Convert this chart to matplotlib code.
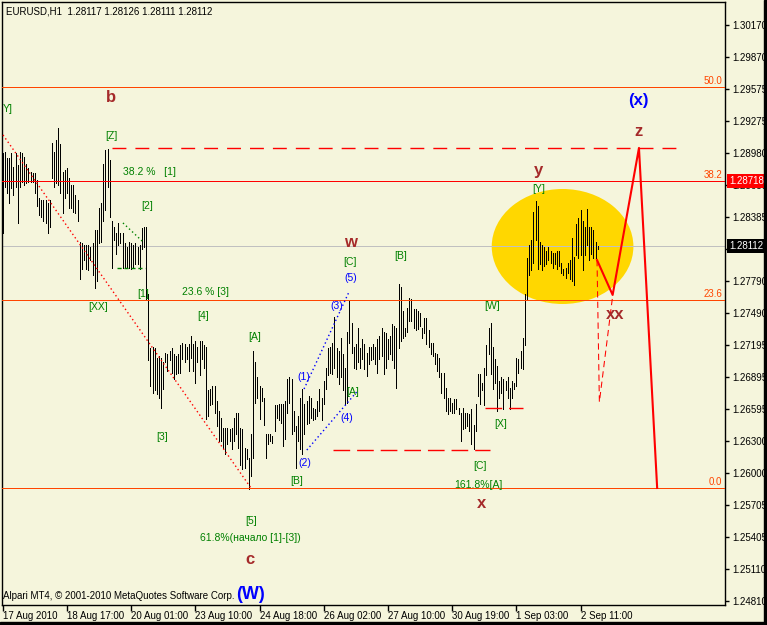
import numpy as np
import matplotlib
matplotlib.use("Agg")
import matplotlib.pyplot as plt
import matplotlib.transforms as mtrans
from matplotlib.patches import Ellipse, Rectangle

plt.rcParams['font.family'] = ['Liberation Sans', 'DejaVu Sans']
plt.rcParams['font.size'] = 7

# EURUSD H1 bars, 17 Aug - 2 Sep 2010
high = [
    1.2898, 1.2899, 1.2893, 1.2893, 1.2898, 1.2885, 1.2898, 1.2887, 1.2899, 1.2898,
    1.2894, 1.2888, 1.2884, 1.2880, 1.2879, 1.2879, 1.2873, 1.2856, 1.2854, 1.2854,
    1.2854, 1.2851, 1.2854, 1.2907, 1.2899, 1.2910, 1.2921, 1.2906, 1.2880, 1.2882,
    1.2884, 1.2875, 1.2868, 1.2868, 1.2859, 1.2854, 1.2815, 1.2814, 1.2812, 1.2812,
    1.2812, 1.2810, 1.2814, 1.2826, 1.2826, 1.2847, 1.2851, 1.2888, 1.2901, 1.2902,
    1.2891, 1.2835, 1.2829, 1.2823, 1.2833, 1.2823, 1.2823, 1.2814, 1.2810, 1.2815,
    1.2814, 1.2812, 1.2814, 1.2810, 1.2812, 1.2828, 1.2829, 1.2829, 1.2767, 1.2716,
    1.2717, 1.2716, 1.2707, 1.2709, 1.2707, 1.2703, 1.2712, 1.2711, 1.2714, 1.2716,
    1.2711, 1.2709, 1.2711, 1.2719, 1.2721, 1.2720, 1.2717, 1.2720, 1.2728, 1.2720,
    1.2723, 1.2717, 1.2723, 1.2723, 1.2719, 1.2717, 1.2677, 1.2678, 1.2681, 1.2681,
    1.2667, 1.2658, 1.2651, 1.2642, 1.2642, 1.2642, 1.2641, 1.2642, 1.2651, 1.2656,
    1.2656, 1.2642, 1.2641, 1.2623, 1.2622, 1.2614, 1.2636, 1.2714, 1.2703, 1.2689,
    1.2681, 1.2679, 1.2670, 1.2636, 1.2636, 1.2636, 1.2635, 1.2663, 1.2663, 1.2664,
    1.2664, 1.2664, 1.2667, 1.2688, 1.2689, 1.2688, 1.2658, 1.2644, 1.2653, 1.2670,
    1.2678, 1.2664, 1.2667, 1.2672, 1.2670, 1.2661, 1.2660, 1.2667, 1.2678, 1.2670,
    1.2686, 1.2698, 1.2716, 1.2717, 1.2721, 1.2745, 1.2716, 1.2714, 1.2726, 1.2711,
    1.2698, 1.2731, 1.2761, 1.2740, 1.2717, 1.2720, 1.2735, 1.2716, 1.2725, 1.2720,
    1.2712, 1.2717, 1.2717, 1.2720, 1.2717, 1.2725, 1.2728, 1.2735, 1.2731, 1.2730,
    1.2725, 1.2728, 1.2739, 1.2737, 1.2735, 1.2776, 1.2773, 1.2751, 1.2735, 1.2754,
    1.2763, 1.2762, 1.2753, 1.2753, 1.2751, 1.2749, 1.2735, 1.2744, 1.2744, 1.2733,
    1.2721, 1.2721, 1.2712, 1.2711, 1.2707, 1.2693, 1.2693, 1.2679, 1.2670, 1.2670,
    1.2665, 1.2669, 1.2669, 1.2661, 1.2656, 1.2661, 1.2656, 1.2656, 1.2655, 1.2660,
    1.2645, 1.2664, 1.2692, 1.2692, 1.2684, 1.2698, 1.2719, 1.2735, 1.2740, 1.2717,
    1.2706, 1.2700, 1.2686, 1.2689, 1.2688, 1.2686, 1.2689, 1.2679, 1.2686, 1.2684,
    1.2707, 1.2706, 1.2714, 1.2726, 1.2767, 1.2800, 1.2812, 1.2817, 1.2843, 1.2853,
    1.2849, 1.2815, 1.2812, 1.2810, 1.2807, 1.2810, 1.2807, 1.2805, 1.2805, 1.2807,
    1.2807, 1.2796, 1.2790, 1.2791, 1.2796, 1.2798, 1.2819, 1.2801, 1.2832, 1.2837,
    1.2845, 1.2835, 1.2829, 1.2846, 1.2829, 1.2829, 1.2826, 1.2815, 1.2811,
]
low = [
    1.2823, 1.2866, 1.2861, 1.2851, 1.2865, 1.2859, 1.2866, 1.2833, 1.2866, 1.2871,
    1.2868, 1.2870, 1.2871, 1.2871, 1.2871, 1.2861, 1.2849, 1.2840, 1.2838, 1.2835,
    1.2833, 1.2823, 1.2829, 1.2875, 1.2866, 1.2870, 1.2868, 1.2861, 1.2842, 1.2856,
    1.2861, 1.2847, 1.2847, 1.2843, 1.2842, 1.2835, 1.2781, 1.2790, 1.2798, 1.2790,
    1.2789, 1.2798, 1.2784, 1.2772, 1.2779, 1.2814, 1.2815, 1.2835, 1.2845, 1.2866,
    1.2838, 1.2791, 1.2817, 1.2804, 1.2812, 1.2814, 1.2791, 1.2791, 1.2791, 1.2791,
    1.2790, 1.2791, 1.2795, 1.2795, 1.2790, 1.2809, 1.2810, 1.2761, 1.2705, 1.2681,
    1.2675, 1.2677, 1.2674, 1.2670, 1.2661, 1.2678, 1.2703, 1.2695, 1.2705, 1.2693,
    1.2688, 1.2692, 1.2693, 1.2693, 1.2706, 1.2703, 1.2706, 1.2695, 1.2707, 1.2695,
    1.2684, 1.2703, 1.2691, 1.2706, 1.2698, 1.2650, 1.2653, 1.2663, 1.2664, 1.2656,
    1.2644, 1.2630, 1.2630, 1.2623, 1.2618, 1.2627, 1.2630, 1.2622, 1.2630, 1.2636,
    1.2623, 1.2608, 1.2604, 1.2605, 1.2613, 1.2585, 1.2597, 1.2614, 1.2665, 1.2670,
    1.2650, 1.2667, 1.2645, 1.2614, 1.2627, 1.2630, 1.2628, 1.2639, 1.2651, 1.2649,
    1.2647, 1.2625, 1.2632, 1.2656, 1.2665, 1.2636, 1.2639, 1.2605, 1.2630, 1.2622,
    1.2618, 1.2636, 1.2646, 1.2647, 1.2651, 1.2649, 1.2650, 1.2653, 1.2658, 1.2649,
    1.2664, 1.2678, 1.2691, 1.2693, 1.2692, 1.2698, 1.2689, 1.2683, 1.2689, 1.2677,
    1.2664, 1.2665, 1.2721, 1.2712, 1.2698, 1.2697, 1.2703, 1.2698, 1.2706, 1.2697,
    1.2690, 1.2702, 1.2705, 1.2706, 1.2702, 1.2693, 1.2706, 1.2709, 1.2692, 1.2698,
    1.2706, 1.2711, 1.2705, 1.2698, 1.2679, 1.2716, 1.2723, 1.2726, 1.2728, 1.2731,
    1.2742, 1.2742, 1.2735, 1.2733, 1.2734, 1.2737, 1.2726, 1.2730, 1.2720, 1.2717,
    1.2711, 1.2709, 1.2702, 1.2695, 1.2689, 1.2675, 1.2670, 1.2658, 1.2655, 1.2658,
    1.2656, 1.2656, 1.2660, 1.2655, 1.2630, 1.2641, 1.2642, 1.2644, 1.2639, 1.2627,
    1.2622, 1.2639, 1.2672, 1.2664, 1.2677, 1.2663, 1.2691, 1.2711, 1.2692, 1.2678,
    1.2684, 1.2658, 1.2670, 1.2675, 1.2660, 1.2677, 1.2670, 1.2660, 1.2670, 1.2678,
    1.2681, 1.2693, 1.2698, 1.2697, 1.2719, 1.2762, 1.2784, 1.2789, 1.2796, 1.2817,
    1.2790, 1.2795, 1.2789, 1.2793, 1.2795, 1.2798, 1.2796, 1.2791, 1.2795, 1.2790,
    1.2793, 1.2786, 1.2784, 1.2782, 1.2786, 1.2781, 1.2779, 1.2775, 1.2803, 1.2800,
    1.2803, 1.2789, 1.2803, 1.2812, 1.2798, 1.2804, 1.2800, 1.2800, 1.2809,
]

date_ticks = [0, 30, 60, 90, 120, 150, 180, 210, 240, 270]
date_labels = ['17 Aug 2010', '18 Aug 17:00', '20 Aug 01:00', '23 Aug 10:00',
               '24 Aug 18:00', '26 Aug 02:00', '27 Aug 10:00', '30 Aug 19:00',
               '1 Sep 03:00', '2 Sep 11:00']
price_ticks = [1.30170, 1.29870, 1.29575, 1.29275, 1.28980, 1.28680, 1.28385,
               1.28085, 1.27790, 1.27490, 1.27195, 1.26895, 1.26595, 1.26300,
               1.26000, 1.25705, 1.25405, 1.25110, 1.24810]

fib_levels = [1.29593, 1.28718, 1.27611, 1.25862]
fib_names = ['50.0', '38.2', '23.6', '0.0']
red_level = 1.28718
bid = 1.28112

# forecast path drawn by the analyst: xx -> z -> down
proj_x = [277.7, 285.0, 297.3, 305.8]
proj_y = [1.27983, 1.27658, 1.29026, 1.25862]
alt_x = [277.7, 278.8, 285.0]
alt_y = [1.27983, 1.26662, 1.27648]

BG = '#F5F5DC'
GREEN = '#008000'
BROWN = '#A52A2A'
BLUE = '#0000FF'
FIBO = '#FF4500'

W, H = 767, 625
fig = plt.figure(figsize=(W / 100, H / 100), dpi=100, facecolor=BG)
ax = fig.add_axes([2 / W, 20 / H, 723 / W, 603 / H])
ax.set_facecolor(BG)
ax.set_xlim(-0.33, 337.5)
ax.set_ylim(1.24773, 1.30384)

x = np.arange(len(high))
ax.add_patch(Ellipse((261.6, 1.28109), 66.2, 0.0107, fc='#FFD700', ec='none', zorder=1))
ax.axhline(bid, color='#C0C0C0', lw=0.72, antialiased=False, zorder=1.6)
ax.vlines(x, low, high, colors='black', lw=0.72, antialiased=False, zorder=2)

for lvl, name in zip(fib_levels, fib_names):
    col = 'red' if lvl == red_level else FIBO
    ax.axhline(lvl, color=col, lw=0.72, antialiased=False, zorder=3)
    ax.annotate(name, xy=(1, lvl), xycoords=('axes fraction', 'data'),
                xytext=(-3, 1), textcoords='offset pixels', ha='right',
                va='bottom', color=FIBO, fontsize=7, zorder=4)

# dashed / dotted helper lines
ax.plot([51.1, 317.9], [1.29026, 1.29026], color='red', lw=1, ls=(0, (10, 6.5)), zorder=3)
ax.plot([154.4, 227.7], [1.26215, 1.26215], color='red', lw=1, ls=(0, (12, 5)), zorder=3)
ax.plot([225.4, 243.1], [1.26606, 1.26606], color='red', lw=1, ls=(0, (12, 5)), zorder=3)
ax.plot([0.14, 116.0], [1.29147, 1.25862], color='red', lw=1, ls=(0, (1, 2)), zorder=3)
ax.plot([140.8, 161.8], [1.26783, 1.27686], color=BLUE, lw=1, ls=(0, (1, 2)), zorder=3)
ax.plot([142.1, 166.2], [1.26215, 1.26774], color=BLUE, lw=1, ls=(0, (1, 2)), zorder=3)
ax.plot([56.2, 65.6], [1.28328, 1.28151], color=GREEN, lw=1, ls=(0, (1, 2)), zorder=3)
ax.plot([53.4, 66.5], [1.27909, 1.27909], color=GREEN, lw=1, ls=(0, (3, 2)), zorder=3)

ax.plot(proj_x, proj_y, color='red', lw=1.5, zorder=3)
ax.plot(alt_x, alt_y, color='red', lw=0.75, ls=(0, (6, 4)), zorder=3)

# wave labels
green_labels = [
    (0.14, 1.29389, 'Y]', 'left'), (50.6, 1.29137, '[Z]', 'center'),
    (56.2, 1.28802, '38.2 %   [1]', 'left'), (67.5, 1.28486, '[2]', 'center'),
    (65.6, 1.27667, '[1]', 'center'), (44.8, 1.27546, '[XX]', 'center'),
    (83.8, 1.27686, '23.6 % [3]', 'left'), (93.6, 1.27462, '[4]', 'center'),
    (74.7, 1.26336, '[3]', 'center'), (117.7, 1.27267, '[A]', 'center'),
    (137.2, 1.25927, '[B]', 'center'), (116.3, 1.25555, '[5]', 'center'),
    (115.8, 1.25401, '61.8%(начало [1]-[3])', 'center'),
    (162.5, 1.27965, '[C]', 'center'), (163.5, 1.26755, '[A]', 'center'),
    (186.1, 1.28021, '[B]', 'center'), (228.9, 1.27555, '[W]', 'center'),
    (232.6, 1.26457, '[X]', 'center'), (223.0, 1.26066, '[C]', 'center'),
    (222.3, 1.25890, '161.8%[A]', 'center'), (250.4, 1.28644, '[Y]', 'center'),
]
for tx, ty, s, ha in green_labels:
    ax.text(tx, ty, s, color=GREEN, ha=ha, va='center', fontsize=7.5, zorder=4)

blue_labels = [(162.8, 1.27816, '(5)'), (156.2, 1.27555, '(3)'),
               (140.6, 1.26895, '(1)'), (160.9, 1.26513, '(4)'),
               (141.3, 1.26094, '(2)')]
for tx, ty, s in blue_labels:
    ax.text(tx, ty, s, color=BLUE, ha='center', va='center', fontsize=7.5, zorder=4)

big = dict(fontsize=12, fontweight='bold', ha='center', va='center', zorder=4)
for tx, ty, s in [(50.6, 1.29500, 'b'), (162.5, 1.28142, 'w'), (250.4, 1.28812, 'y'),
                  (297.3, 1.29175, 'z'), (286.3, 1.27472, 'xx'), (223.5, 1.25713, 'x'),
                  (115.6, 1.25192, 'c')]:
    ax.text(tx, ty, s, color=BROWN, **big)
ax.text(297.1, 1.29463, '(x)', color=BLUE, **big)
ax.text(115.6, 1.24875, '(W)', color=BLUE, **{**big, 'fontsize': 13})

# axes look of MT4
for sp in ax.spines.values():
    sp.set_color('black')
    sp.set_linewidth(1)
ax.set_xticks(date_ticks)
ax.set_xticklabels(date_labels, ha='left')
shift = mtrans.ScaledTranslation(2 / 72, 0, fig.dpi_scale_trans)
for lbl in ax.get_xticklabels():
    lbl.set_transform(lbl.get_transform() + shift)
ax.yaxis.tick_right()
ax.set_yticks(price_ticks)
ax.set_yticklabels([f'{v:.5f}' for v in price_ticks])
ax.tick_params(axis='x', direction='out', length=4, width=1, pad=0, labelsize=7)
ax.tick_params(axis='y', direction='out', length=3, width=1, pad=2, labelsize=7)

for lvl, fc in [(red_level, 'red'), (bid, 'black')]:
    ax.annotate(f'{lvl:.5f}', xy=(1, lvl), xycoords=('axes fraction', 'data'),
                xytext=(4, 0), textcoords='offset pixels', ha='left', va='center',
                color='white', fontsize=7, annotation_clip=False, zorder=10,
                bbox=dict(boxstyle='square,pad=0.2', fc=fc, ec='none'))

fig.text(6 / W, 1 - 11 / H, 'EURUSD,H1  1.28117 1.28126 1.28111 1.28112',
         fontsize=7, va='center')
fig.text(3 / W, 1 - 596 / H, 'Alpari MT4, © 2001-2010 MetaQuotes Software Corp.',
         fontsize=7, va='center')

fig.add_artist(Rectangle((764 / W, 0), 3 / W, 1, transform=fig.transFigure,
                         color='black'))
fig.add_artist(Rectangle((0, 0), 1, 3 / H, transform=fig.transFigure,
                         color='black'))

fig.savefig('out.png', dpi=100, facecolor=BG)
